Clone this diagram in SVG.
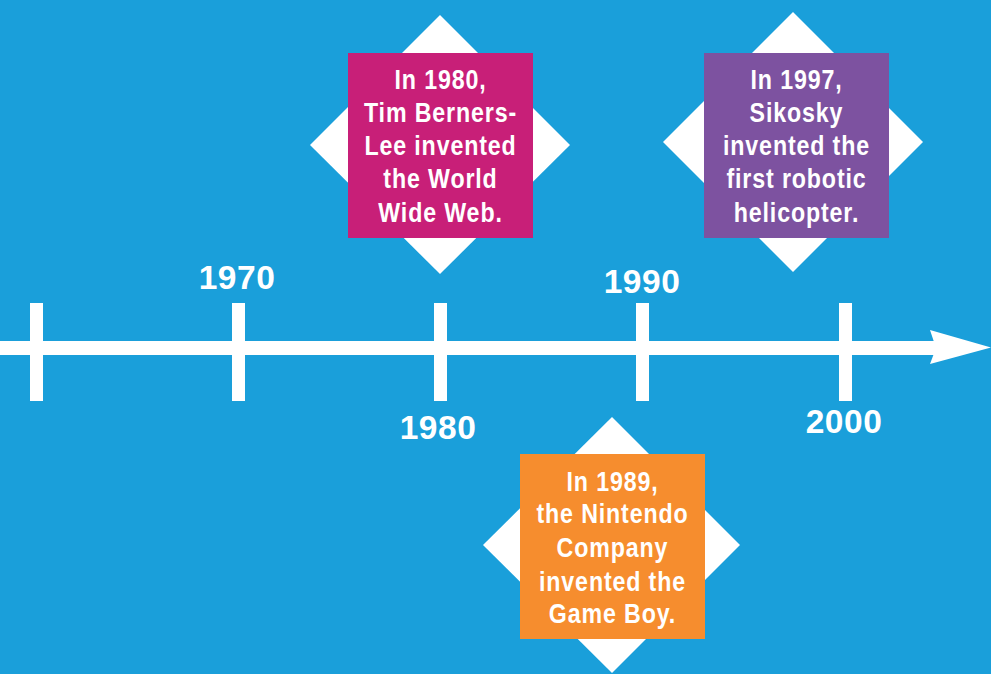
<svg xmlns="http://www.w3.org/2000/svg" width="991" height="674" viewBox="0 0 991 674">
  <style>
    .tick { fill: #ffffff; }
    .diamond { fill: #ffffff; }
    .year { font-family: "Liberation Sans", Arial, sans-serif; font-weight: bold; font-size: 33.5px; fill: #ffffff; text-anchor: middle; letter-spacing: 0.5px; }
    .note { font-family: "Liberation Sans", Arial, sans-serif; font-weight: bold; font-size: 27px; fill: #ffffff; text-anchor: middle; letter-spacing: 1px; }
  </style>
  <rect x="0" y="0" width="991" height="674" fill="#1a9fda"/>

  <g id="connectors">
    <rect x="0" y="341" width="938" height="14" fill="#ffffff"/>
    <polygon points="930,330 991,347.5 930,364 936,348" fill="#ffffff"/>
    <rect class="tick" x="30" y="303" width="13" height="98"/>
    <rect class="tick" x="232" y="303" width="13" height="98"/>
    <rect class="tick" x="434" y="303" width="13" height="98"/>
    <rect class="tick" x="636" y="303" width="13" height="98"/>
    <rect class="tick" x="839" y="303" width="13" height="98"/>
  </g>

  <g id="year-1970"><text class="year" x="237" y="289">1970</text></g>
  <g id="year-1980"><text class="year" x="438" y="439">1980</text></g>
  <g id="year-1990"><text class="year" x="642" y="293">1990</text></g>
  <g id="year-2000"><text class="year" x="844" y="433">2000</text></g>

  <g id="note-1980">
    <polygon class="diamond" points="440,15 570,145 440,274 310,145"/>
    <rect x="348" y="53" width="185" height="185" fill="#c81f78"/>
    <g transform="translate(440.5,0) scale(0.86,1)">
      <text class="note" x="0" y="89">In 1980,</text>
      <text class="note" x="0" y="122">Tim Berners-</text>
      <text class="note" x="0" y="155.5">Lee invented</text>
      <text class="note" x="0" y="188.5">the World</text>
      <text class="note" x="0" y="222">Wide Web.</text>
    </g>
  </g>

  <g id="note-1997">
    <polygon class="diamond" points="793,12 923,142 793,272 663,142"/>
    <rect x="704" y="53" width="185" height="185" fill="#7d52a0"/>
    <g transform="translate(796.5,0) scale(0.86,1)">
      <text class="note" x="0" y="89">In 1997,</text>
      <text class="note" x="0" y="122">Sikosky</text>
      <text class="note" x="0" y="155.5">invented the</text>
      <text class="note" x="0" y="188.5">first robotic</text>
      <text class="note" x="0" y="222">helicopter.</text>
    </g>
  </g>

  <g id="note-1989">
    <polygon class="diamond" points="612,417 740,545 612,673 483,545"/>
    <rect x="520" y="454" width="185" height="185" fill="#f68d2e"/>
    <g transform="translate(612.5,0) scale(0.86,1)">
      <text class="note" x="0" y="491">In 1989,</text>
      <text class="note" x="0" y="523.5">the Nintendo</text>
      <text class="note" x="0" y="557">Company</text>
      <text class="note" x="0" y="591">invented the</text>
      <text class="note" x="0" y="623.5">Game Boy.</text>
    </g>
  </g>
</svg>
